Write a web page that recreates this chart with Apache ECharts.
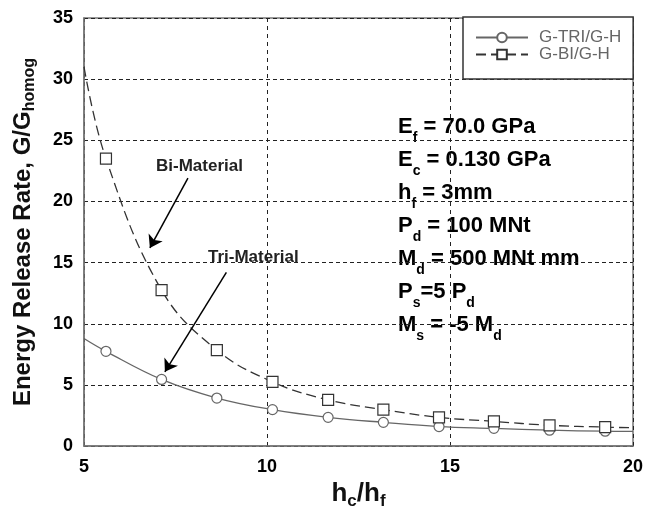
<!DOCTYPE html>
<html>
<head>
<meta charset="utf-8">
<script src="https://cdn.jsdelivr.net/npm/echarts@6/dist/echarts.min.js"></script>
<style>html,body{margin:0;padding:0;background:#fff}#c{width:646px;height:515px}</style>
</head>
<body>
<div id="c"></div>
<script>
// Data
const markerX = [5.6, 7.12, 8.63, 10.15, 11.67, 13.18, 14.7, 16.2, 17.72, 19.24];
const triVals = [7.75, 5.45, 3.93, 2.98, 2.35, 1.94, 1.6, 1.45, 1.3, 1.22];
const biVals  = [23.5, 12.75, 7.85, 5.25, 3.78, 2.98, 2.35, 2.02, 1.7, 1.55];
const triEnds = [[5, 8.8], [20, 1.2]];
const biEnds  = [[5, 31], [20, 1.5]];
const xTicks = [5, 10, 15, 20];
const yTicks = [0, 5, 10, 15, 20, 25, 30, 35];
const seriesNames = ['G-TRI/G-H', 'G-BI/G-H'];
const arrowBi  = [[7.84, 21.9], [6.8, 16.2]];
const arrowTri = [[8.89, 14.2], [7.21, 6.07]];
const params = [
  ['E', 'f', ' = 70.0 GPa'],
  ['E', 'c', ' = 0.130 GPa'],
  ['h', 'f', ' = 3mm'],
  ['P', 'd', ' = 100 MNt'],
  ['M', 'd', ' = 500 MNt mm'],
  ['P', 's', '=5 P', 'd'],
  ['M', 's', ' = -5 M', 'd']
];

function buildData(vals, ends) {
  const d = [{value: ends[0], symbol: 'none'}];
  markerX.forEach((x, i) => d.push({value: [x, vals[i]]}));
  d.push({value: ends[1], symbol: 'none'});
  return d;
}
function richLine(parts) {
  return parts.map((p, i) => (i % 2 === 0 ? '{m|' : '{s|') + p + '}').join('');
}

const FONT = 'Liberation Sans, Arial, sans-serif';
const mainRich = {fontSize: 22, fontWeight: 'bold', fontFamily: FONT, color: '#111', lineHeight: 24, verticalAlign: 'top'};
const subRich = {fontSize: 14, fontWeight: 'bold', fontFamily: FONT, color: '#111', lineHeight: 14, padding: [15, 0, 0, 0], verticalAlign: 'top'};

const graphics = params.map((p, i) => ({
  type: 'text', left: 398, top: 116 + i * 33,
  style: {text: richLine(p), rich: {m: mainRich, s: subRich}}
}));
graphics.push({type: 'text', left: 156, top: 158,
  style: {text: 'Bi-Material', font: 'bold 17px ' + FONT, fill: '#222'}});
graphics.push({type: 'text', left: 208, top: 249,
  style: {text: 'Tri-Material', font: 'bold 17px ' + FONT, fill: '#222'}});

const chart = echarts.init(document.getElementById('c'), null, {renderer: 'canvas'});
chart.setOption({
  animation: false,
  backgroundColor: '#fff',
  grid: {left: 84, top: 18, right: 12, bottom: 53, show: true, borderColor: '#777', borderWidth: 1.5},
  xAxis: {
    type: 'value', min: 5, max: 20, interval: 5,
    name: 'h{s|c}/h{s|f}', nameLocation: 'middle', nameGap: 27,
    nameTextStyle: {fontSize: 26, fontWeight: 'bold', fontFamily: FONT, color: '#111',
      rich: {s: {fontSize: 17, fontWeight: 'bold', fontFamily: FONT, color: '#111', padding: [15, 0, 0, 0], verticalAlign: 'top'}}},
    axisLine: {lineStyle: {color: '#777', width: 1.5}},
    axisTick: {show: false},
    axisLabel: {fontSize: 18, fontWeight: 'bold', fontFamily: FONT, color: '#000', margin: 12,
      formatter: v => xTicks.includes(v) ? String(v) : ''},
    splitLine: {show: true, lineStyle: {color: '#222', type: [4, 4], width: 1}}
  },
  yAxis: {
    type: 'value', min: 0, max: 35, interval: 5,
    name: 'Energy Release Rate, G/G{s|homog}', nameLocation: 'middle', nameGap: 46,
    nameTextStyle: {fontSize: 24, fontWeight: 'bold', fontFamily: FONT, color: '#111',
      rich: {s: {fontSize: 16, fontWeight: 'bold', fontFamily: FONT, color: '#111', padding: [13, 0, 0, 0], verticalAlign: 'top'}}},
    axisLine: {lineStyle: {color: '#777', width: 1.5}},
    axisTick: {show: false},
    axisLabel: {fontSize: 18, fontWeight: 'bold', fontFamily: FONT, color: '#000', margin: 11,
      formatter: v => yTicks.includes(v) ? String(v) : ''},
    splitLine: {show: true, lineStyle: {color: '#222', type: [4, 3], width: 1}}
  },
  legend: {
    orient: 'vertical', left: 463, top: 17,
    data: seriesNames,
    backgroundColor: '#fff', borderColor: '#333', borderWidth: 1.5,
    padding: [12, 12, 16, 12], itemGap: 0, itemWidth: 52, itemHeight: 12,
    textStyle: {fontSize: 17, fontFamily: FONT, color: '#666', lineHeight: 15, padding: [0, 0, 0, 6]}
  },
  series: [
    {
      name: seriesNames[0], type: 'line', smooth: 0.4,
      data: buildData(triVals, triEnds),
      symbol: 'circle', symbolSize: 10, showAllSymbol: true,
      itemStyle: {color: '#fff', borderColor: '#666', borderWidth: 1.2},
      lineStyle: {color: '#666', width: 1.3, type: 'solid'},
      markLine: {
        silent: true, animation: false, symbol: ['none', 'arrow'], symbolSize: 12,
        label: {show: false},
        lineStyle: {color: '#000', width: 1.5, type: 'solid'},
        data: [
          [{coord: arrowBi[0]}, {coord: arrowBi[1]}],
          [{coord: arrowTri[0]}, {coord: arrowTri[1]}]
        ]
      }
    },
    {
      name: seriesNames[1], type: 'line', smooth: 0.4,
      data: buildData(biVals, biEnds),
      symbol: 'rect', symbolSize: 11, showAllSymbol: true,
      itemStyle: {color: '#fff', borderColor: '#333', borderWidth: 1.2},
      lineStyle: {color: '#333', width: 1.3, type: [10, 5]}
    }
  ],
  graphic: graphics
});
</script>
</body>
</html>
